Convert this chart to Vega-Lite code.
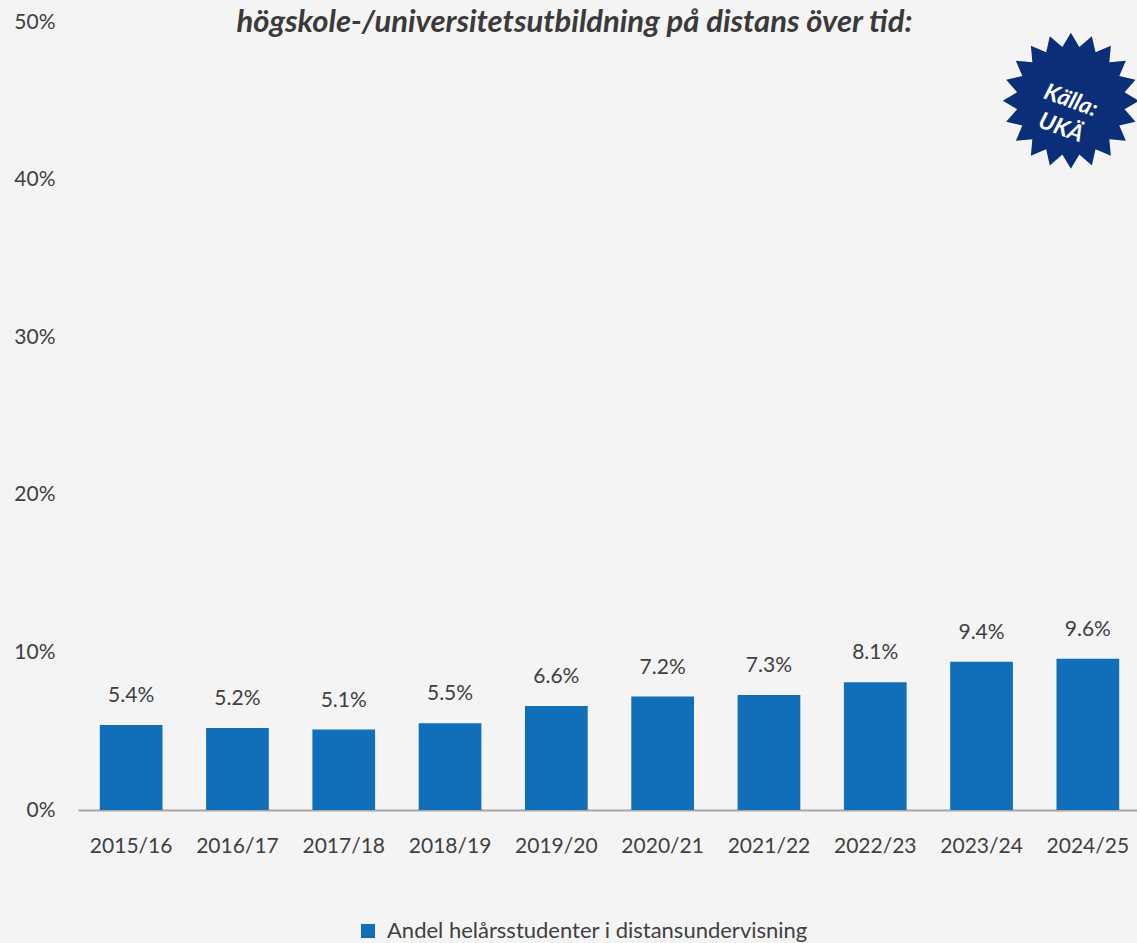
{
  "$schema": "https://vega.github.io/schema/vega-lite/v6.json",
  "autosize": {"type": "none"},
  "width": 1063,
  "height": 788,
  "padding": {"left": 78, "top": 22, "right": 0, "bottom": 133},
  "background": "#F4F4F4",
  "config": {
    "view": {"stroke": null},
    "font": "Lato",
    "axis": {"labelFont": "Lato", "labelFontSize": 21, "labelColor": "#404040", "grid": false, "ticks": false, "title": null}
  },
  "title": {
    "text": "högskole-/universitetsutbildning på distans över tid:",
    "font": "Lato",
    "fontSize": 31,
    "fontWeight": "bold",
    "fontStyle": "italic",
    "color": "#3A3A3A",
    "anchor": "middle",
    "dx": -35,
    "baseline": "alphabetic",
    "offset": -52
  },
  "layer": [
    {
      "data": {"values": [
        {"year": "2015/16", "share": 0.054, "series": "Andel helårsstudenter i distansundervisning"},
        {"year": "2016/17", "share": 0.052, "series": "Andel helårsstudenter i distansundervisning"},
        {"year": "2017/18", "share": 0.051, "series": "Andel helårsstudenter i distansundervisning"},
        {"year": "2018/19", "share": 0.055, "series": "Andel helårsstudenter i distansundervisning"},
        {"year": "2019/20", "share": 0.066, "series": "Andel helårsstudenter i distansundervisning"},
        {"year": "2020/21", "share": 0.072, "series": "Andel helårsstudenter i distansundervisning"},
        {"year": "2021/22", "share": 0.073, "series": "Andel helårsstudenter i distansundervisning"},
        {"year": "2022/23", "share": 0.081, "series": "Andel helårsstudenter i distansundervisning"},
        {"year": "2023/24", "share": 0.094, "series": "Andel helårsstudenter i distansundervisning"},
        {"year": "2024/25", "share": 0.096, "series": "Andel helårsstudenter i distansundervisning"}
      ]},
      "encoding": {
        "x": {
          "field": "year", "type": "nominal", "sort": null,
          "scale": {"paddingInner": 0.41, "paddingOuter": 0.205},
          "axis": {"labelAngle": 0, "domainColor": "#A6A6A6", "domainWidth": 2, "labelPadding": 25, "labelBaseline": "top"}
        },
        "y": {
          "field": "share", "type": "quantitative",
          "scale": {"domain": [0, 0.5], "nice": false},
          "axis": {"values": [0, 0.1, 0.2, 0.3, 0.4, 0.5], "format": ".0%", "domain": false, "labelPadding": 23}
        }
      },
      "layer": [
        {
          "mark": {"type": "bar"},
          "encoding": {
            "color": {
              "field": "series", "type": "nominal",
              "scale": {"range": ["#116EB8"]},
              "legend": {
                "orient": "none", "legendX": 279, "legendY": 898, "title": null,
                "symbolType": "square", "symbolSize": 196, "padding": 0, "labelLimit": 0,
                "labelFontSize": 22, "labelColor": "#404040", "labelOffset": 8, "labelFont": "Lato"
              }
            }
          }
        },
        {
          "mark": {"type": "text", "baseline": "alphabetic", "dy": -23, "fontSize": 21, "color": "#404040", "font": "Lato"},
          "encoding": {
            "text": {"field": "share", "type": "quantitative", "format": ".1%"}
          }
        }
      ]
    },
    {
      "data": {"values": [{"year": "2024/25", "share": 0.45}]},
      "encoding": {
        "x": {"field": "year", "type": "nominal"},
        "y": {"field": "share", "type": "quantitative"}
      },
      "layer": [
        {
          "mark": {
            "type": "point", "filled": true, "opacity": 1, "color": "#0A2F78", "xOffset": -17, "size": 18496,
            "shape": "M0,-1L0.125,-0.79L0.309,-0.951L0.363,-0.713L0.588,-0.809L0.566,-0.566L0.809,-0.588L0.713,-0.363L0.951,-0.309L0.79,-0.125L1,0L0.79,0.125L0.951,0.309L0.713,0.363L0.809,0.588L0.566,0.566L0.588,0.809L0.363,0.713L0.309,0.951L0.125,0.79L0,1L-0.125,0.79L-0.309,0.951L-0.363,0.713L-0.588,0.809L-0.566,0.566L-0.809,0.588L-0.713,0.363L-0.951,0.309L-0.79,0.125L-1,0L-0.79,-0.125L-0.951,-0.309L-0.713,-0.363L-0.809,-0.588L-0.566,-0.566L-0.588,-0.809L-0.363,-0.713L-0.309,-0.951L-0.125,-0.79Z"
          }
        },
        {
          "mark": {
            "type": "text", "text": ["Källa:", "UKÄ"], "color": "white", "font": "Lato", "fontSize": 23,
            "fontWeight": "bold", "fontStyle": "italic", "angle": 20, "lineHeight": 29,
            "xOffset": -17, "align": "center", "baseline": "middle"
          }
        }
      ]
    }
  ]
}
